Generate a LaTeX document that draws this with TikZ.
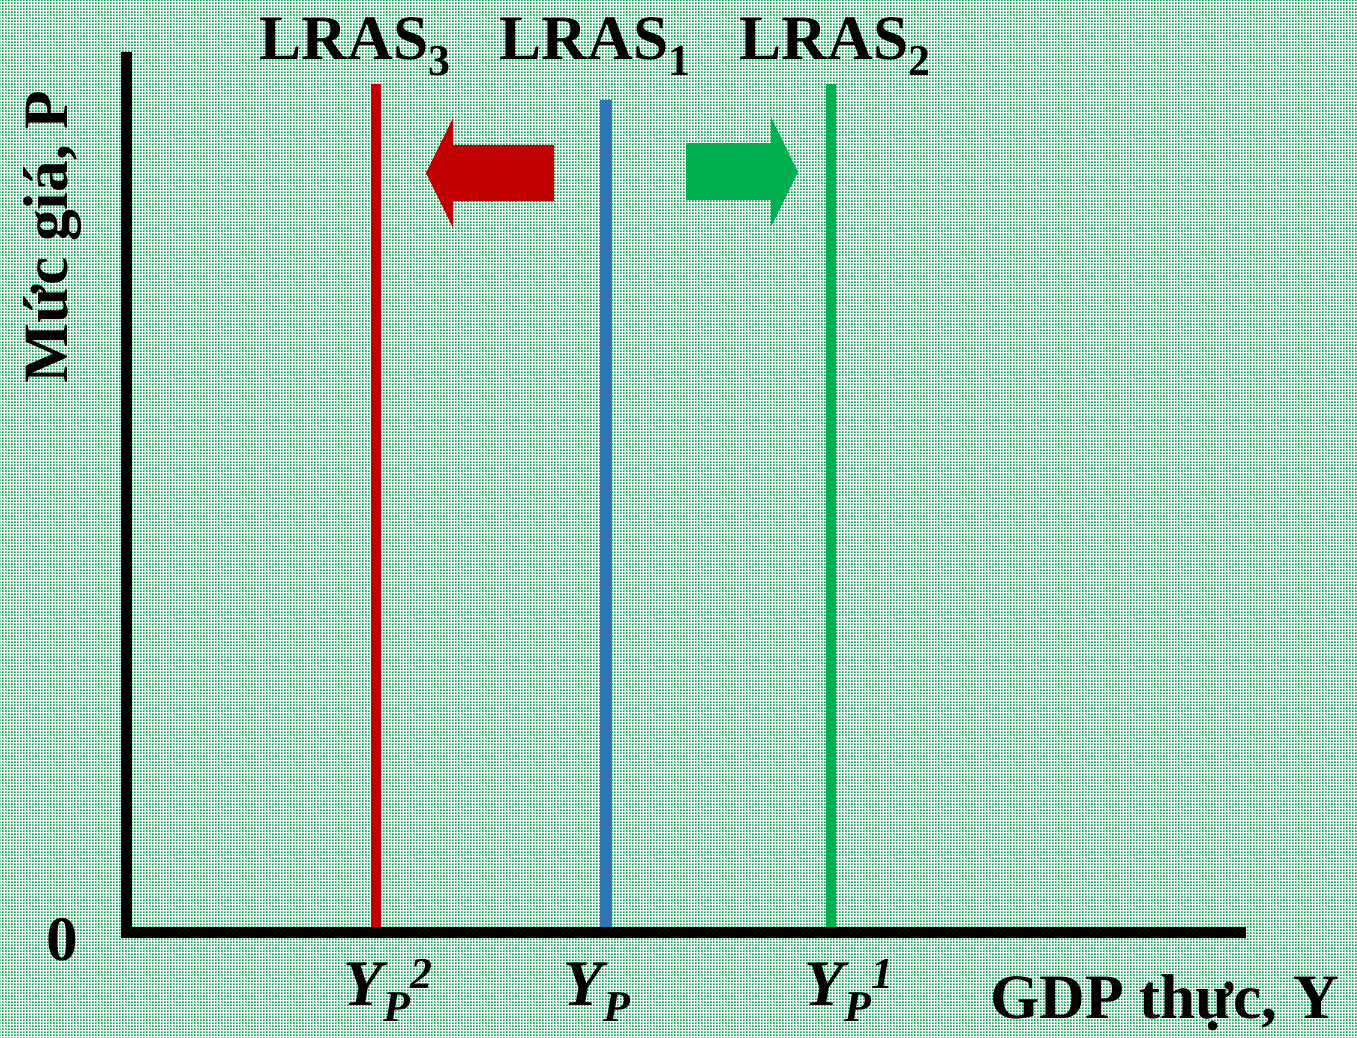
\documentclass[tikz,border=0pt]{standalone}
\usepackage{fontspec}
\setmainfont{Liberation Serif}
\usetikzlibrary{patterns.meta}
\definecolor{lrasred}{RGB}{192, 0, 0}
\definecolor{lrasblue}{RGB}{46, 117, 182}
\definecolor{lrasgreen}{RGB}{0, 176, 80}
\definecolor{bgdot}{RGB}{0, 166, 81}
\tikzdeclarepattern{
    name=bgdots, type=uncolored,
    bounding box={(0mm,0mm) and (0.333mm,0.333mm)},
    tile size={(0.333mm,0.333mm)},
    code={\fill (0mm,0mm) rectangle (0.2mm,0.2mm);}
}
% lowered / raised indices as on the slide
\newcommand{\lowidx}[1]{\raisebox{-4.8pt}{\fontsize{12.5}{14}\selectfont #1}}
\newcommand{\highidx}[1]{\raisebox{4.8pt}{\fontsize{12.5}{14}\selectfont #1}}
\newcommand{\potgdp}[1]{%
    \textit{Y}\lowidx{\textit{P}}\highidx{\textit{#1}}%
}

\begin{document}
\begin{tikzpicture}[
    x=0.1mm, y=-0.1mm,
    every node/.style={font=\fontsize{18}{20}\selectfont\bfseries, inner sep=0pt},
    axis line/.style={line width=1.1mm, black},
    lras line/.style={line width=1.05mm},
    tick label/.style={anchor=base, font=\fontsize{18.5}{20}\selectfont\bfseries\itshape}
]

% =============================================
% Background
% =============================================
\fill[white] (0,0) rectangle (1357,1038);
\fill[pattern=bgdots, pattern color=bgdot] (0,0) rectangle (1357,1038);

% =============================================
% LRAS curves
% =============================================
\draw[lras line, lrasred] (376,84) -- (376,932);
\draw[lras line, lrasblue, line width=1.2mm] (606,100) -- (606,932);
\draw[lras line, lrasgreen] (831,84) -- (831,932);

% Curve labels
\node[anchor=base] (lras3) at (355,59) {LRAS\lowidx{3}};
\node[anchor=base] (lras1) at (595,59) {LRAS\lowidx{1}};
\node[anchor=base] (lras2) at (835,59) {LRAS\lowidx{2}};

% Shift arrows
\fill[lrasred] (426,173) -- (453,118) -- (453,145) -- (554,145)
    -- (554,201) -- (453,201) -- (453,228) -- cycle;
\fill[lrasgreen] (798,172) -- (771,117) -- (771,143) -- (686,143)
    -- (686,200) -- (771,200) -- (771,227) -- cycle;

% =============================================
% Axes
% =============================================
\coordinate (origin) at (126,932);
\coordinate (ytop) at (126,52);
\coordinate (xend) at (1246,932);
\draw[axis line] (ytop) -- (origin) -- (xend);

% Axis labels
\node[anchor=base, rotate=90] (ylabel) at (67,237) {Mức giá, P};
\node[anchor=base east] (xlabel) at (1340,1018) {GDP thực, Y};
\node[anchor=base] (zero) at (62,960) {0};

% Potential output labels
\node[tick label] (yp2) at (388,1005) {\potgdp{2}};
\node[tick label] (yp) at (597,1005) {\potgdp{}};
\node[tick label] (yp1) at (849,1005) {\potgdp{1}};

\end{tikzpicture}
\end{document}
